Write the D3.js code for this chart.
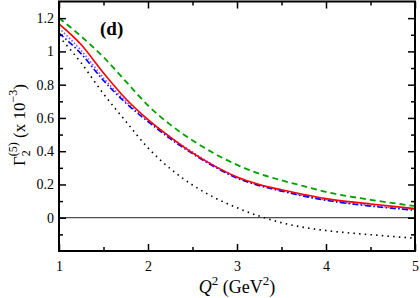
<!DOCTYPE html>
<html><head><meta charset="utf-8">
<script src="https://cdn.jsdelivr.net/npm/d3@7"></script>
<style>body{margin:0;background:#fff}svg{display:block}text{font-family:"Liberation Serif","Times New Roman",serif}</style>
</head><body><svg id="c" width="420" height="298"></svg>
<script>
const q2 = [1, 1.25, 1.5, 1.75, 2, 2.25, 2.5, 2.75, 3, 3.25, 3.5, 3.75, 4, 4.5, 5];
const redSolid   = [1.165, 1.04, 0.87, 0.715, 0.59, 0.485, 0.39, 0.31, 0.245, 0.2, 0.168, 0.14, 0.115, 0.083, 0.055];
const greenDash  = [1.20, 1.09, 0.965, 0.82, 0.675, 0.56, 0.465, 0.385, 0.318, 0.265, 0.225, 0.19, 0.155, 0.108, 0.07];
const blueDashDot= [1.11, 0.985, 0.825, 0.69, 0.578, 0.475, 0.385, 0.305, 0.238, 0.193, 0.16, 0.13, 0.105, 0.07, 0.045];
const purpleDot  = [1.14, 1.005, 0.84, 0.70, 0.588, 0.485, 0.395, 0.312, 0.242, 0.197, 0.163, 0.133, 0.108, 0.074, 0.05];
const blackDot   = [1.09, 0.93, 0.745, 0.58, 0.42, 0.295, 0.197, 0.12, 0.06, 0.01, -0.03, -0.058, -0.077, -0.102, -0.123];
const xTicks = [1, 2, 3, 4, 5];
const yTicks = [0, 0.2, 0.4, 0.6, 0.8, 1, 1.2];

const svg = d3.select("#c");
const L = 59, R = 415, T = 1.5, B = 251;
const x = d3.scaleLinear().domain([1, 5]).range([L, R]);
const y = d3.scaleLinear().domain([-0.2, 1.3]).range([B, T]);

// zero line
svg.append("line").attr("x1", L).attr("x2", R).attr("y1", y(0)).attr("y2", y(0))
  .attr("stroke", "#222").attr("stroke-width", 1);

const line = d3.line().x((d, i) => x(q2[i])).y(d => y(d)).curve(d3.curveMonotoneX);
const series = [
  {v: blackDot, c: "#000", w: 1.6, dash: "1.5,4.2"},
  {v: purpleDot, c: "#8a4dff", w: 1.6, dash: "1.5,2"},
  {v: blueDashDot, c: "#0000ff", w: 1.6, dash: "6,2.5,1.5,2.5"},
  {v: greenDash, c: "#00a000", w: 1.8, dash: "6,4"},
  {v: redSolid, c: "#ff0000", w: 1.6, dash: null}
];
svg.append("clipPath").attr("id", "cp").append("rect")
  .attr("x", L).attr("y", T).attr("width", R - L).attr("height", B - T);
series.forEach(s => {
  svg.append("path").attr("d", line(s.v)).attr("fill", "none")
    .attr("stroke", s.c).attr("stroke-width", s.w)
    .attr("stroke-dasharray", s.dash).attr("clip-path", "url(#cp)");
});

// axes
const fmt = d => d === 0 ? "0" : d3.format("~g")(d);
const minorX = [1.5, 2.5, 3.5, 4.5];
const minorY = [-0.1, 0.1, 0.3, 0.5, 0.7, 0.9, 1.1];
const gs = [
  svg.append("g").attr("transform", `translate(0,${B})`)
    .call(d3.axisBottom(x).tickValues(xTicks).tickFormat(d3.format("d")).tickSizeInner(-7).tickSizeOuter(0).tickPadding(10)),
  svg.append("g").attr("transform", `translate(0,${B})`)
    .call(d3.axisBottom(x).tickValues(minorX).tickFormat("").tickSizeInner(-4).tickSizeOuter(0)),
  svg.append("g").attr("transform", `translate(0,${T})`)
    .call(d3.axisTop(x).tickValues(xTicks).tickFormat("").tickSizeInner(-7).tickSizeOuter(0)),
  svg.append("g").attr("transform", `translate(0,${T})`)
    .call(d3.axisTop(x).tickValues(minorX).tickFormat("").tickSizeInner(-4).tickSizeOuter(0)),
  svg.append("g").attr("transform", `translate(${L},0)`)
    .call(d3.axisLeft(y).tickValues(yTicks).tickFormat(fmt).tickSizeInner(-7).tickSizeOuter(0).tickPadding(5)),
  svg.append("g").attr("transform", `translate(${L},0)`)
    .call(d3.axisLeft(y).tickValues(minorY).tickFormat("").tickSizeInner(-4).tickSizeOuter(0)),
  svg.append("g").attr("transform", `translate(${R},0)`)
    .call(d3.axisRight(y).tickValues(yTicks).tickFormat("").tickSizeInner(-7).tickSizeOuter(0)),
  svg.append("g").attr("transform", `translate(${R},0)`)
    .call(d3.axisRight(y).tickValues(minorY).tickFormat("").tickSizeInner(-4).tickSizeOuter(0))
];
gs.forEach(g => {
  g.select(".domain").remove();
  g.selectAll(".tick line").attr("stroke", "#000").attr("stroke-width", 1.5);
  g.selectAll(".tick text").attr("font-family", "Liberation Serif, serif").attr("font-size", 14).attr("fill", "#000");
});
svg.append("rect").attr("x", L).attr("y", T).attr("width", R - L).attr("height", B - T)
  .attr("fill", "none").attr("stroke", "#000").attr("stroke-width", 2);

// panel label
svg.append("text").attr("x", 100).attr("y", 35).attr("font-size", 19).attr("font-weight", "bold").text("(d)");

// x title
const xt = svg.append("text").attr("x", 237).attr("y", 293).attr("text-anchor", "middle").attr("font-size", 18);
xt.append("tspan").attr("font-style", "italic").text("Q");
xt.append("tspan").attr("dy", -8).attr("font-size", 13).text("2");
xt.append("tspan").attr("dy", 8).text(" (GeV");
xt.append("tspan").attr("dy", -8).attr("font-size", 13).text("2");
xt.append("tspan").attr("dy", 8).text(")");

// y title
const yt = svg.append("text").attr("transform", "translate(25,125) rotate(-90)").attr("text-anchor", "middle").attr("font-size", 17);
yt.append("tspan").text("Γ");
yt.append("tspan").attr("dy", 5).attr("font-size", 12).text("2");
yt.append("tspan").attr("dy", -13).attr("dx", -6).attr("font-size", 12).text("(5)");
yt.append("tspan").attr("dy", 8).text(" (x 10");
yt.append("tspan").attr("dy", -8).attr("font-size", 12).text("−3");
yt.append("tspan").attr("dy", 8).text(")");
</script></body></html>
